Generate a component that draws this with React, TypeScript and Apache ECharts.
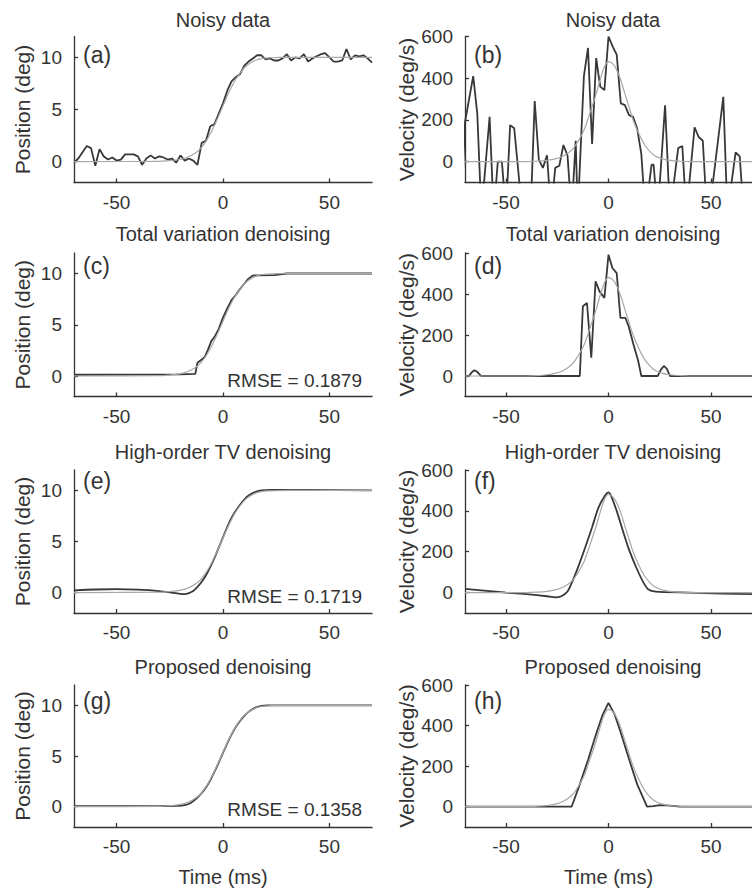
import React, { useEffect, useRef } from "react";
import * as echarts from "echarts";

// ---------------- DATA ----------------
const titles = ["Noisy data", "Total variation denoising", "High-order TV denoising", "Proposed denoising"];
const panelLetters = ["(a)", "(b)", "(c)", "(d)", "(e)", "(f)", "(g)", "(h)"];
const rmseValues = ["", "RMSE = 0.1879", "RMSE = 0.1719", "RMSE = 0.1358"];
const xTicks = [-50, 0, 50];
const posTicks = [0, 5, 10];
const velTicks = [0, 200, 400, 600];

// ground truth position (gray)
const tTruthPos = [-70, -30, -26, -22, -18, -15, -12, -10, -8, -6, -4, -2, 0, 2, 4, 6, 8, 10, 12, 15, 18, 22, 26, 30, 70];
const truthPos = [0, 0.03, 0.08, 0.16, 0.33, 0.58, 0.98, 1.4, 1.95, 2.65, 3.5, 4.4, 5.35, 6.3, 7.15, 7.9, 8.5, 9.0, 9.35, 9.7, 9.88, 9.96, 9.99, 10, 10];

// ground truth velocity (gray)
const tTruthVel = [-70, -40, -35, -30, -26, -22, -18, -15, -12, -10, -8, -6, -4, -2, 0, 2, 4, 6, 8, 10, 12, 15, 18, 22, 26, 30, 35, 40, 70];
const truthVel = [0, 0, 2, 6, 13, 27, 55, 95, 150, 205, 265, 325, 395, 455, 480, 470, 440, 390, 325, 262, 200, 130, 75, 32, 14, 6, 2, 0, 0];

// (a) noisy position
const tNoisy = [-70, -68, -66, -64, -62, -60, -58, -56, -54, -52, -50, -48, -46, -44, -42, -40, -38, -36, -34, -32, -30, -28, -26, -24, -22, -20, -18, -16, -14, -12, -10, -8, -6, -4, -2, 0, 2, 4, 6, 8, 10, 12, 14, 16, 18, 20, 22, 24, 26, 28, 30, 32, 34, 36, 38, 40, 42, 44, 46, 48, 50, 52, 54, 56, 58, 60, 62, 64, 66, 68, 70];
const posNoisy = [-0.1, 0.3, 0.9, 1.5, 1.3, -0.4, 1.2, 0.5, 0.2, 0.4, 0.1, 0.2, 0.7, 0.7, 0.7, 0.5, -0.3, 0.3, 0.6, 0.3, 0.5, 0.4, 0.2, 0.3, -0.1, 0.6, 0.1, 0.3, 0.1, -0.3, 1.8, 2.0, 3.4, 3.6, 4.6, 5.6, 6.8, 7.7, 8.1, 8.4, 9.2, 9.6, 9.9, 10.2, 10.2, 9.8, 9.9, 9.7, 9.7, 9.9, 10.3, 9.7, 10.0, 9.9, 10.3, 9.6, 9.9, 10.1, 10.3, 10.4, 10.0, 9.6, 9.6, 9.7, 10.8, 9.8, 10.2, 10.1, 10.2, 9.9, 9.5];

// (b) noisy velocity
const tVelNoisy = [-72, -70, -66, -64, -62, -58, -56, -54, -52, -50, -48, -46, -42, -38, -36, -34, -32, -30, -28, -26, -24, -22, -20, -18, -16, -15, -12, -10, -8, -6, -5, -4, -2, 0, 2, 4, 6, 8, 10, 12, 14, 16, 18, 21, 22, 24, 27.6, 30, 34, 36, 38, 42, 44, 46, 48, 51, 56, 58, 62, 64, 66, 70];
const velNoisy = [-300, 190, 410, 230, -250, 215, -250, 0, 0, -250, 175, 160, -250, -250, 290, 10, -30, 30, -250, -30, -20, 80, 30, -250, 100, -250, 410, 545, 85, 497, 424, 360, 343, 600, 553, 513, 279, 271, 223, 215, 158, 37, -250, -15, -15, -250, 270, -250, 65, 75, -250, 165, 118, 100, -250, -95, 311, -250, 45, 25, -250, -250];

// (c) TV position
const tTvPos = [-70, -40, -20, -13, -12, -10, -8.5, -7, -5.5, -4, -2, 0, 2, 4, 6, 8, 10, 12, 14, 16, 24, 28, 30, 70];
const tvPos = [0.12, 0.13, 0.15, 0.2, 1.3, 1.6, 1.9, 2.6, 3.4, 3.8, 4.6, 5.7, 6.6, 7.4, 7.9, 8.5, 9.0, 9.5, 9.8, 9.82, 9.85, 9.95, 10, 10];

// (d) TV velocity
const tTvVel = [-70, -68, -67, -65.5, -64, -62.5, -62, -14, -12.5, -10.5, -8.4, -6.3, -4.4, -2, 0, 1.9, 4, 5.8, 8.2, 9.8, 12.2, 14.5, 16, 24, 25.5, 27, 28.5, 30, 70];
const tvVel = [0, 0, 15, 28, 20, 3, 0, 0, 340, 356, 89, 462, 413, 381, 592, 527, 502, 284, 284, 243, 154, 73, 0, 0, 30, 49, 35, 0, 0];

// (e) high-order TV position
const tHoPos = [-70, -60, -50, -40, -30, -24, -20, -18, -16, -14, -12, -10, -8, -6, -4, -2, 0, 2, 4, 6, 8, 10, 12, 15, 18, 22, 40, 70];
const hoPos = [0.22, 0.3, 0.33, 0.28, 0.15, 0.0, -0.12, -0.15, -0.05, 0.15, 0.55, 1.05, 1.7, 2.5, 3.4, 4.4, 5.4, 6.4, 7.3, 8.0, 8.6, 9.1, 9.5, 9.85, 10.0, 10.05, 10.05, 10.0];

// (f) high-order TV velocity
const tHoVel = [-70, -55, -50, -40, -30, -26, -23, -20, -18, -15, -11.5, -8, -5, -2, 0, 1, 4, 7.4, 10, 13.7, 17, 19.5, 23, 39, 55, 70];
const hoVel = [18, 5, 0, -8, -18, -24, -18, 5, 46, 120, 217, 320, 413, 470, 490, 480, 400, 290, 210, 119, 50, 15, 5, 0, -5, -8];

// (g) proposed position
const tPrPos = [-70, -30, -22, -18, -15, -12, -10, -8, -6, -4, -2, 0, 2, 4, 6, 8, 10, 12, 15, 18, 21, 70];
const prPos = [0.05, 0.05, 0.08, 0.15, 0.4, 0.9, 1.35, 1.9, 2.6, 3.45, 4.35, 5.3, 6.25, 7.1, 7.85, 8.45, 8.95, 9.35, 9.75, 9.95, 10.0, 10.0];

// (h) proposed velocity
const tPrVel = [-70, -18, -14, -10, -6, -3, 0, 3, 6, 10, 14, 18.8, 22, 25, 30, 35, 70];
const prVel = [0, 0, 110, 230, 360, 450, 512, 455, 365, 235, 110, 0, 3, 8, 5, 0, 0];

// ---------------- LAYOUT ----------------
const FONT = '"Liberation Sans", Arial, Helvetica, sans-serif';
const TXT = "#333";
const DARK = "#383838";
const GRAY = "#a8a8a8";
const rowTop = [36.5, 253, 470, 685];
const rowH = [146, 143.5, 143, 142];
const colLeft = [74, 465];
const colW = [298, 296];
const titleY = [20, 234, 451.5, 667];
const letterY = [55, 266, 481, 701];
const letterX = [83, 474];
const rmseY = [0, 380, 596, 809];

const zip = (t: number[], v: number[]) => t.map((x, i) => [x, v[i]]);

const darkData = [
  zip(tNoisy, posNoisy), zip(tVelNoisy, velNoisy),
  zip(tTvPos, tvPos), zip(tTvVel, tvVel),
  zip(tHoPos, hoPos), zip(tHoVel, hoVel),
  zip(tPrPos, prPos), zip(tPrVel, prVel),
];
const darkSmooth = [0, 0, 0, 0, 0.3, 0.2, 0.3, 0];

function buildOption() {
  const grid: any[] = [];
  const xAxis: any[] = [];
  const yAxis: any[] = [];
  const series: any[] = [];
  const graphic: any[] = [];
  const lineStyle = { color: TXT, width: 1.3 };
  for (let r = 0; r < 4; r++) {
    for (let c = 0; c < 2; c++) {
      const i = r * 2 + c;
      grid.push({ left: colLeft[c], top: rowTop[r], width: colW[c], height: rowH[r], containLabel: false });
      xAxis.push({
        type: "value", gridIndex: i, min: -70, max: 70,
        axisLine: { show: true, onZero: false, lineStyle },
        axisTick: { show: true, inside: true, length: 4, customValues: xTicks, lineStyle },
        axisLabel: { customValues: xTicks, fontSize: 19, color: TXT, fontFamily: FONT, margin: 10 },
        splitLine: { show: false },
        name: r === 3 ? "Time (ms)" : "",
        nameLocation: "middle", nameGap: 40,
        nameTextStyle: { fontSize: 20, color: TXT, fontFamily: FONT },
      });
      const isPos = c === 0;
      yAxis.push({
        type: "value", gridIndex: i,
        min: isPos ? -2 : -100, max: isPos ? 12 : 600,
        axisLine: { show: true, onZero: false, lineStyle },
        axisTick: { show: true, inside: true, length: 4, customValues: isPos ? posTicks : velTicks, lineStyle },
        axisLabel: { customValues: isPos ? posTicks : velTicks, fontSize: 19, color: TXT, fontFamily: FONT, margin: 12 },
        splitLine: { show: false },
        name: isPos ? "Position (deg)" : "Velocity (deg/s)",
        nameLocation: "middle", nameGap: isPos ? 41 : 46,
        nameTextStyle: { fontSize: 21, color: TXT, fontFamily: FONT },
      });
      series.push({
        type: "line", xAxisIndex: i, yAxisIndex: i, data: darkData[i],
        symbol: "none", smooth: darkSmooth[i], clip: true, silent: true,
        lineStyle: { color: DARK, width: 1.8 }, z: 2,
      });
      series.push({
        type: "line", xAxisIndex: i, yAxisIndex: i,
        data: isPos ? zip(tTruthPos, truthPos) : zip(tTruthVel, truthVel),
        symbol: "none", smooth: 0.35, clip: true, silent: true,
        lineStyle: { color: GRAY, width: 1.2 }, z: 3,
      });
      graphic.push({
        type: "text", x: colLeft[c] + colW[c] / 2, y: titleY[r], silent: true,
        style: { text: titles[r], fill: TXT, fontSize: 20, fontFamily: FONT, textAlign: "center", align: "center", textVerticalAlign: "middle", verticalAlign: "middle" },
      });
      graphic.push({
        type: "text", x: letterX[c], y: letterY[r], silent: true,
        style: { text: panelLetters[i], fill: TXT, fontSize: 23, fontFamily: FONT, textAlign: "left", align: "left", textVerticalAlign: "middle", verticalAlign: "middle" },
      });
      if (c === 0 && r > 0) {
        graphic.push({
          type: "text", x: 362, y: rmseY[r], silent: true,
          style: { text: rmseValues[r], fill: TXT, fontSize: 19, fontFamily: FONT, textAlign: "right", align: "right", textVerticalAlign: "middle", verticalAlign: "middle" },
        });
      }
    }
  }
  return {
    animation: false,
    backgroundColor: "#ffffff",
    textStyle: { fontFamily: FONT },
    grid, xAxis, yAxis, series, graphic,
  };
}

export default function App() {
  const ref = useRef<HTMLDivElement>(null);
  useEffect(() => {
    if (!ref.current) return;
    const chart = echarts.init(ref.current, null, { renderer: "svg" });
    chart.setOption(buildOption() as any);
    return () => chart.dispose();
  }, []);
  return (
    <div
      ref={ref}
      style={{ position: "absolute", left: 0, top: 0, width: 752, height: 890, background: "#fff", overflow: "hidden" }}
    />
  );
}
